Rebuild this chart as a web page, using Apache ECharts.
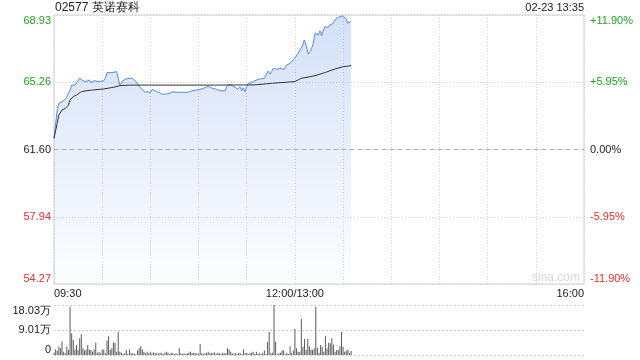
<!DOCTYPE html>
<html>
<head>
<meta charset="utf-8">
<script src="https://cdn.jsdelivr.net/npm/echarts@6/dist/echarts.min.js"></script>
<style>
html,body{margin:0;padding:0;background:#fff;}
#c{width:640px;height:360px;}
</style>
</head>
<body>
<div id="c"></div>
<script>
// ---- data (minutes since 09:30; 12:00/13:00 = 150, 16:00 = 330) ----
const titleText = '02577 英诺赛科';
const stampText = '02-23 13:35';
const prevClose = 61.60;
const priceMin = 54.27, priceMax = 68.93;
const priceTicks = ['54.27', '57.94', '61.60', '65.26', '68.93'];
const pctTicks = ['-11.90%', '-5.95%', '0.00%', '+5.95%', '+11.90%'];
const volTicks = ['0', '9.01万', '18.03万'];
const volMax = 18.03;
const timeLabels = {0: '09:30', 150: '12:00/13:00', 330: '16:00'};

const priceTimes = [0,2,3,5,7,8,9,10,11,12,13,14,16,17,18,20,22,23,25,28,29,31,32,33,34,36,37,39,40,41,42,44,45,47,49,51,52.5,54.6,56.7,58,60,61,62,64,65.6,67,70,72,74,76,79.5,83.6,85.7,88.8,90.9,93,95,97,98.6,99.8,101.3,103.3,106.5,107.5,109,111,112.7,114.4,115.8,116.9,117.9,118.9,120,121,123,125,128,131,132,133.4,134.5,135.5,136.5,138.7,140.7,141.8,143.4,144.9,147,149,150.5,152,153,154.6,155.8,156.7,157.3,158.3,159.4,160.4,161.4,162.5,163.5,164.6,165.6,166.7,167.7,168.7,169.8,170.8,171.8,173.3,175,176,177,178,179.5,180.7,181.8,182.9,183.9,185];
const priceValues = [62.21,63.75,64.12,64.20,64.34,64.48,64.66,64.84,65.11,65.21,65.11,65.24,65.48,65.39,65.35,65.30,65.39,65.24,65.35,65.30,65.39,65.35,65.48,65.79,65.84,65.79,65.88,65.84,65.75,65.11,65.17,65.43,65.53,65.48,65.48,65.30,65.11,64.88,64.72,64.75,64.70,64.88,64.80,64.75,64.70,64.62,64.62,64.66,64.75,64.72,64.72,64.72,64.80,64.84,64.88,64.93,65.02,65.02,64.93,64.84,64.88,64.80,64.80,65.02,65.15,65.08,64.99,64.88,65.02,64.80,64.97,64.75,65.02,65.21,65.24,65.35,65.44,65.48,65.66,65.88,65.71,65.84,66.02,65.97,66.02,66.11,65.97,66.20,66.30,66.48,66.66,66.84,66.93,67.24,67.57,67.53,67.20,66.80,66.93,67.11,67.39,67.93,68.02,67.84,68.07,67.79,68.11,68.29,68.33,68.26,68.38,68.44,68.66,68.75,68.80,68.88,68.88,68.80,68.75,68.48,68.48,68.60];

const avgTimes = [0,2,3,5,7,9,10,12,14,17,20,24,31,37,41,47,66,100,125,136,150,154,162.5,169,175,180,185];
const avgValues = [62.21,63.03,63.48,63.75,63.84,64.02,64.30,64.48,64.57,64.75,64.80,64.84,64.90,64.99,65.08,65.11,65.11,65.11,65.12,65.21,65.30,65.48,65.62,65.80,65.99,66.11,66.17];

// volume per minute (万), minutes 0..185
const volumes = [0.8,2.0,1.5,3.0,2.4,5.0,1.2,0.6,3.0,1.8,17.4,7.8,5.4,2.0,3.6,1.8,6.0,7.6,2.4,1.6,
2.0,3.6,2.0,1.8,1.2,2.0,4.4,0.8,1.2,0.5,2.0,2.0,0.6,5.2,6.8,1.8,2.4,4.4,4.4,1.2,
8.4,1.2,0.8,0.3,0.6,1.8,0.4,2.0,0.6,0.6,0.4,0.3,1.6,2.4,3.2,2.0,1.2,0.6,1.2,0.6,
1.2,0.5,1.0,0.6,0.8,0.4,0.8,0.6,0.4,0.8,1.2,0.8,0.4,0.8,0.6,0.4,0.6,0.3,2.4,0.6,
0.4,0.6,0.4,0.6,0.8,1.2,0.6,0.8,0.6,0.6,0.4,4.0,0.6,0.4,0.6,0.8,1.2,0.6,0.8,0.6,
1.0,0.4,0.8,0.6,0.4,0.8,0.6,0.6,2.4,2.0,1.2,0.6,0.4,0.6,0.4,0.8,0.6,0.3,2.0,0.6,
0.8,0.4,0.6,0.8,1.2,0.4,1.2,0.4,0.6,0.4,0.8,1.6,0.4,4.8,8.4,0.6,0.8,18.0,4.8,0.4,
0.6,0.8,1.6,1.6,0.4,0.8,0.4,3.2,0.6,1.6,9.4,2.4,1.2,1.2,13.0,3.0,5.8,1.8,5.8,3.2,
2.0,1.8,2.4,17.4,2.6,0.8,3.6,3.0,1.2,6.8,2.4,4.4,4.2,6.0,3.6,1.2,1.8,1.8,3.2,8.4,
3.0,1.2,1.6,2.0,0.6,1.4];

// ---- build ----
const FONT = '"Liberation Sans", Arial, sans-serif';
const GREEN = '#1fa51f', RED = '#f02c2c', DARK = '#222';
const priceData = priceTimes.map((t, i) => [t, priceValues[i]]);
const avgData = avgTimes.map((t, i) => [t, avgValues[i]]);
const volData = volumes.map((v, i) => [i, v]);
const tickColor = (i) => (i > 2 ? GREEN : (i < 2 ? RED : DARK));

const chart = echarts.init(document.getElementById('c'), null, {renderer: 'canvas'});
chart.setOption({
  animation: false,
  backgroundColor: '#fff',
  textStyle: {fontFamily: FONT},
  graphic: [
    {type: 'text', left: 55, top: 2, style: {text: titleText, font: '12px ' + FONT, fill: '#222'}},
    {type: 'text', right: 56, top: 2, style: {text: stampText, font: '11px ' + FONT, fill: '#222'}},
    {type: 'text', left: 532, top: 272, style: {text: 'sina.com', font: '12px ' + FONT, fill: '#d8d8d8'}}
  ],
  grid: [
    {left: 54, right: 56, top: 15, height: 269, show: true, borderColor: '#cfcfcf', borderWidth: 1},
    {left: 54, right: 56, top: 305, height: 50, show: false}
  ],
  xAxis: [
    {
      type: 'value', gridIndex: 0, min: 0, max: 330, interval: 30,
      axisLine: {show: false}, axisTick: {show: false},
      splitLine: {show: true, lineStyle: {color: '#d4d4d4', type: [1, 2], width: 1}},
      axisLabel: {
        show: true, margin: 4, fontSize: 11, color: '#222', fontFamily: FONT,
        alignMinLabel: 'left', alignMaxLabel: 'right',
        formatter: (v) => timeLabels[v] || ''
      }
    },
    {
      type: 'value', gridIndex: 1, min: 0, max: 330, interval: 30,
      axisLine: {show: false}, axisTick: {show: false}, axisLabel: {show: false},
      splitLine: {show: false}
    }
  ],
  yAxis: [
    {
      type: 'value', gridIndex: 0, position: 'left', min: 0, max: 4, interval: 1,
      axisLine: {show: false}, axisTick: {show: false},
      splitLine: {show: true, lineStyle: {color: '#d4d4d4', type: [1, 2], width: 1}},
      axisLabel: {
        margin: 3, fontSize: 11, fontFamily: FONT,
        verticalAlignMaxLabel: 'top', verticalAlignMinLabel: 'bottom',
        formatter: (v) => priceTicks[Math.round(v)],
        color: (v, i) => tickColor(Math.round(v))
      }
    },
    {
      type: 'value', gridIndex: 0, position: 'right', min: 0, max: 4, interval: 1,
      axisLine: {show: false}, axisTick: {show: false}, splitLine: {show: false},
      axisLabel: {
        margin: 6, fontSize: 11, fontFamily: FONT,
        verticalAlignMaxLabel: 'top', verticalAlignMinLabel: 'bottom',
        formatter: (v) => pctTicks[Math.round(v)],
        color: (v, i) => tickColor(Math.round(v))
      }
    },
    {
      type: 'value', gridIndex: 0, min: priceMin, max: priceMax, show: false,
      splitLine: {show: false}
    },
    {
      type: 'value', gridIndex: 1, position: 'left', min: 0, max: volMax, interval: volMax / 2,
      axisLine: {show: false}, axisTick: {show: false},
      splitLine: {show: true, lineStyle: {color: '#cfcfcf', type: [2, 2], width: 1}},
      axisLabel: {
        margin: 3, fontSize: 11, fontFamily: FONT, color: '#222',
        verticalAlignMaxLabel: 'top', verticalAlignMinLabel: 'bottom',
        formatter: (v) => volTicks[Math.round(v / (volMax / 2))]
      }
    }
  ],
  series: [
    {
      type: 'line', xAxisIndex: 0, yAxisIndex: 2, data: priceData,
      symbol: 'none', smooth: false,
      lineStyle: {color: '#5288ec', width: 1},
      areaStyle: {
        origin: 'start',
        color: new echarts.graphic.LinearGradient(0, 0, 0, 1, [
          {offset: 0, color: 'rgba(110,150,232,0.42)'},
          {offset: 1, color: 'rgba(110,150,232,0.02)'}
        ])
      },
      markLine: {
        silent: true, symbol: 'none', label: {show: false},
        lineStyle: {color: '#aaaaaa', type: [4, 4], width: 1},
        data: [{yAxis: prevClose}]
      },
      z: 3
    },
    {
      type: 'line', xAxisIndex: 0, yAxisIndex: 2, data: avgData,
      symbol: 'none', lineStyle: {color: '#333', width: 1}, z: 4
    },
    {
      type: 'bar', xAxisIndex: 1, yAxisIndex: 3, data: volData,
      barWidth: 1, itemStyle: {color: '#5a5a5a'}
    }
  ]
});
</script>
</body>
</html>
